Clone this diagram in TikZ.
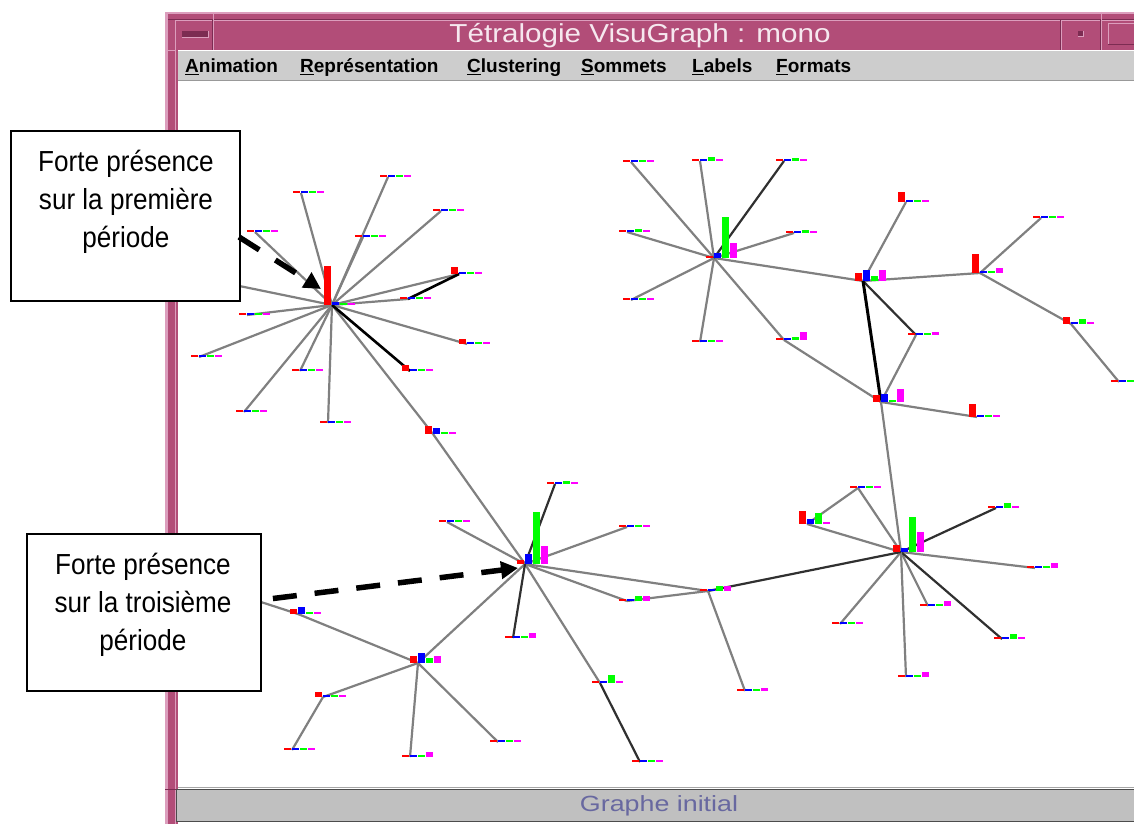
\documentclass[tikz,border=0pt]{standalone}
\usepackage{fontspec}
\setmainfont{Liberation Sans}
\usetikzlibrary{arrows.meta}
\definecolor{framec}{HTML}{B24D78}
\definecolor{framelt}{HTML}{DC9EBD}
\definecolor{framedk}{HTML}{7C2C52}
\definecolor{menugray}{HTML}{CDCDCD}
\definecolor{statgray}{HTML}{C0C0C0}
\definecolor{stattext}{HTML}{6868A0}
\definecolor{titletxt}{HTML}{F6E8EF}
\definecolor{edgegray}{HTML}{808080}
\definecolor{edgedark}{HTML}{303030}
\definecolor{barR}{HTML}{FF0000}
\definecolor{barB}{HTML}{0000FF}
\definecolor{barG}{HTML}{00FF00}
\definecolor{barM}{HTML}{FF00FF}
\newcommand\vbars[5]{%
  \begin{scope}[shift={(#1)}]
    \fill[barR] (-8,0) rectangle (-1,-#2);
    \fill[barB] (0,0) rectangle (7,-#3);
    \fill[barG] (8,0) rectangle (15,-#4);
    \fill[barM] (16,0) rectangle (23,-#5);
  \end{scope}}
\newcommand\minbars[1]{\vbars{#1}{2.5}{2.5}{2.5}{2.5}}
\tikzset{
  edge/.style={draw=edgegray, line width=2.2pt},
  darkedge/.style={draw=edgedark, line width=2.2pt},
  blackedge/.style={draw=black, line width=2.6pt},
  callout/.style={draw=black, line width=1.4pt, fill=white, inner sep=0pt},
  callouttext/.style={font=\fontsize{29}{38}\selectfont, align=center, xscale=0.9, inner sep=0pt},
  callarrow/.style={line width=5.5pt, -{Triangle[length=17pt,width=17pt]}},
  menuitem/.style={anchor=base west, inner sep=0pt, font=\fontsize{19}{22}\bfseries\selectfont, xscale=1.0},
}
\begin{document}
\begin{tikzpicture}[x=1pt,y=-1pt]
\useasboundingbox (0,0) rectangle (1134,824);
\fill[white] (0,0) rectangle (1134,824);

% ---------- window frame ----------
\fill[framec] (165,12) rectangle (1134,50);
\fill[framec] (165,12) rectangle (178,824);
\fill[framelt] (165,12) rectangle (168,824);
\fill[framelt] (165,12) rectangle (1134,14);
\draw[framelt, line width=1pt] (175.5,824) -- (175.5,20.5) -- (1134,20.5);
\draw[framedk, line width=0.8pt] (168,19.5) -- (1134,19.5);
\draw[framelt, line width=1pt] (213.5,12) -- (213.5,50);
\draw[framedk, line width=0.8pt] (212.5,20) -- (212.5,50);
\draw[framelt, line width=1pt] (1061.5,20) -- (1061.5,50);
\draw[framedk, line width=0.8pt] (1060.5,20) -- (1060.5,50);
\draw[framelt, line width=1pt] (1101.5,12) -- (1101.5,50);
\draw[framedk, line width=0.8pt] (1100.5,20) -- (1100.5,50);
\draw[framelt, line width=1pt] (165,50.5) -- (176,50.5);
\draw[framedk, line width=1pt] (165,789.5) -- (176,789.5);
% window buttons
\fill[framedk] (182,31) rectangle (208,37);
\draw[framelt, line width=0.8pt] (182,37) -- (208,37) -- (208,31);
\fill[framedk] (1078,31) rectangle (1083,36);
\draw[framelt, line width=0.6pt] (1078,36) -- (1083,36) -- (1083,31);
\draw[framelt, line width=1pt] (1108,45) -- (1108,24) -- (1134,24);
\draw[framedk, line width=1pt] (1108,45) -- (1134,45);

% title
\node[text=titletxt, font=\fontsize{26}{30}\selectfont, xscale=1.14, inner sep=0pt] (title) at (640,35.5) {Tétralogie VisuGraph : mono};

% menu bar
\fill[menugray] (178,51) rectangle (1134,80);
\draw[gray!80, line width=1pt] (178,80.5) -- (1134,80.5);
\node[menuitem] (m1) at (185,73) {\underline{A}nimation};
\node[menuitem] (m2) at (300,73) {\underline{R}eprésentation};
\node[menuitem] (m3) at (467,73) {\underline{C}lustering};
\node[menuitem] (m4) at (581,73) {\underline{S}ommets};
\node[menuitem] (m5) at (692,73) {\underline{L}abels};
\node[menuitem] (m6) at (776,73) {\underline{F}ormats};

% status bar
\fill[statgray] (176,789) rectangle (1134,822);
\draw[gray!60!black, line width=1.2pt] (176.5,822) -- (176.5,789.5) -- (1134,789.5);
\draw[gray!60!black, line width=1.2pt] (176.5,821.5) -- (1134,821.5);
\draw[gray!70, line width=0.8pt] (178,787) -- (1134,787);
\node[text=stattext, font=\fontsize{22}{26}\selectfont, xscale=1.22, inner sep=0pt] (status) at (659,805.5) {Graphe initial};

% ---------- graph vertices ----------
\coordinate (A) at (332,305);
\coordinate (a1) at (301,193);
\coordinate (a2) at (388,177);
\coordinate (a3) at (441,211);
\coordinate (a4) at (363,237);
\coordinate (a5) at (255,232);
\coordinate (a6) at (215,281);
\coordinate (a7) at (247,315);
\coordinate (a8) at (199,357);
\coordinate (a9) at (300,371);
\coordinate (a10) at (244,412);
\coordinate (a11) at (328,423);
\coordinate (a12) at (459,274);
\coordinate (a13) at (408,299);
\coordinate (a14) at (467,344);
\coordinate (a15) at (410,371);
\coordinate (a16) at (433,434);

\coordinate (B1) at (714,258);
\coordinate (b1) at (631,162);
\coordinate (b2) at (700,161);
\coordinate (b3) at (784,161);
\coordinate (b4) at (627,232);
\coordinate (b5) at (794,233);
\coordinate (b6) at (631,300);
\coordinate (b7) at (700,342);
\coordinate (b8) at (784,340);
\coordinate (B2) at (863,281);
\coordinate (b9) at (906,202);
\coordinate (B4) at (980,273);
\coordinate (b10) at (916,335);
\coordinate (B3) at (881,402);
\coordinate (b11) at (977,417);
\coordinate (b12) at (1041,218);
\coordinate (b13) at (1071,324);
\coordinate (b14) at (1119,382);

\coordinate (C) at (525,564);
\coordinate (c1) at (555,484);
\coordinate (c2) at (447,522);
\coordinate (c3) at (627,527);
\coordinate (c4) at (627,601);
\coordinate (N) at (708,591);
\coordinate (c5) at (513,638);
\coordinate (c6) at (600,683);
\coordinate (c7) at (640,762);
\coordinate (E) at (418,663);
\coordinate (e1) at (298,614);
\coordinate (e0) at (230,592);
\coordinate (e2) at (323,697);
\coordinate (e3) at (292,750);
\coordinate (e4) at (410,757);
\coordinate (e5) at (498,742);

\coordinate (D) at (901,552);
\coordinate (d1) at (858,488);
\coordinate (F) at (807,524);
\coordinate (d2) at (996,508);
\coordinate (d3) at (1035,568);
\coordinate (d4) at (928,606);
\coordinate (d5) at (1002,639);
\coordinate (d6) at (840,624);
\coordinate (d7) at (906,677);
\coordinate (n1) at (745,691);

% ---------- edges ----------
\foreach \t in {a1,a2,a3,a4,a5,a6,a7,a8,a9,a10,a11,a12,a13,a14,a16}
  \draw[edge] (A) -- (\t);
\draw[blackedge] (A) -- (a15);
\draw[blackedge] (a13) -- (a12);
\draw[edge] (a16) -- (C);

\foreach \t in {b1,b2,b4,b5,b6,b7,b8,B2}
  \draw[edge] (B1) -- (\t);
\draw[darkedge] (B1) -- (b3);
\draw[edge] (b8) -- (B3);
\draw[edge] (B2) -- (b9);
\draw[edge] (B2) -- (B4);
\draw[darkedge] (B2) -- (b10);
\draw[blackedge, line width=3pt] (B2) -- (B3);
\draw[edge] (B3) -- (b10);
\draw[edge] (B3) -- (b11);
\draw[edge] (B3) -- (D);
\draw[edge] (B4) -- (b12);
\draw[edge] (B4) -- (b13);
\draw[edge] (b13) -- (b14);

\draw[darkedge] (C) -- (c1);
\foreach \t in {c2,c3,c4,N,c6,E}
  \draw[edge] (C) -- (\t);
\draw[edge] (c4) -- (N);
\draw[darkedge] (C) -- (c5);
\draw[darkedge] (c6) -- (c7);
\draw[edge] (E) -- (e1);
\draw[edge] (e1) -- (e0);
\draw[edge] (E) -- (e2);
\draw[edge] (e2) -- (e3);
\draw[edge] (E) -- (e4);
\draw[edge] (E) -- (e5);

\draw[edge] (D) -- (d1);
\draw[edge] (d1) -- (F);
\draw[edge] (F) -- (D);
\draw[darkedge] (D) -- (d2);
\draw[edge] (D) -- (d3);
\draw[edge] (D) -- (d4);
\draw[darkedge] (D) -- (d5);
\draw[edge] (D) -- (d6);
\draw[edge] (D) -- (d7);
\draw[darkedge] (N) -- (D);
\draw[edge] (N) -- (n1);

% ---------- bar glyphs ----------
\vbars{A}{39}{3}{2.5}{2.5}
\foreach \t in {a1,a2,a3,a4,a5,a7,a8,a9,a10,a11,a13} {\minbars{\t}}
\vbars{a12}{7}{2.5}{2.5}{2.5}
\vbars{a14}{5}{2.5}{2.5}{2.5}
\vbars{a15}{6}{2.5}{2.5}{2.5}
\vbars{a16}{8}{6}{2.5}{2.5}

\vbars{B1}{2.5}{5}{41}{15}
\foreach \t in {b1,b6,b7,b12,b14} {\minbars{\t}}
\vbars{b2}{2.5}{2.5}{4}{2.5}
\vbars{b3}{2.5}{2.5}{3.5}{2.5}
\vbars{b4}{2.5}{2.5}{3.5}{2.5}
\vbars{b5}{2.5}{2.5}{3.5}{2.5}
\vbars{b8}{2.5}{2.5}{3}{8}
\vbars{B2}{8}{11}{5}{11}
\vbars{b9}{10}{2.5}{2.5}{2.5}
\vbars{B4}{19}{2.5}{2.5}{5}
\vbars{b10}{2.5}{2.5}{2.5}{3.5}
\vbars{B3}{7}{8}{2.5}{13}
\vbars{b11}{13}{2.5}{2.5}{2.5}
\vbars{b13}{7}{2.5}{5}{2.5}

\vbars{C}{4}{10}{52}{18}
\vbars{c1}{2.5}{2.5}{3.5}{2.5}
\foreach \t in {c2,c3,c7,e3,e5,d1,d6} {\minbars{\t}}
\vbars{c4}{2.5}{2.5}{5}{5}
\vbars{N}{2.5}{2.5}{5}{5}
\vbars{c5}{2.5}{2.5}{2.5}{5}
\vbars{c6}{2.5}{2.5}{8}{2.5}
\vbars{E}{7}{10}{5}{7}
\vbars{e1}{5}{7}{2.5}{2.5}
\vbars{e2}{5}{2.5}{2.5}{2.5}
\vbars{e4}{2.5}{2.5}{2.5}{5}

\vbars{D}{7}{4}{35}{20}
\vbars{F}{13}{5}{11}{2.5}
\vbars{d2}{2.5}{2.5}{5}{2.5}
\vbars{d3}{2.5}{2.5}{2.5}{5}
\vbars{d4}{2.5}{2.5}{2.5}{5}
\vbars{d5}{2.5}{2.5}{5}{2.5}
\vbars{d7}{2.5}{2.5}{2.5}{5}
\vbars{n1}{2.5}{2.5}{2.5}{3.5}

% ---------- callouts ----------
\node[callout, minimum width=229pt, minimum height=170pt] (box1) at (125.5,216) {};
\node[callouttext] (txt1) at (126,201.5) {Forte présence\\sur la première\\période};
\node[callout, minimum width=234pt, minimum height=157pt] (box2) at (144,612.5) {};
\node[callouttext] (txt2) at (143,604.5) {Forte présence\\sur la troisième\\période};

\coordinate (s1) at (239,237);
\coordinate (t1) at (321,289);
\coordinate (s2) at (261,600);
\coordinate (t2) at (518,568);
\draw[callarrow, dash pattern=on 24pt off 19pt] (s1) -- (t1);
\draw[callarrow, dash pattern=on 24pt off 18pt, dash phase=30pt] (s2) -- (t2);
\end{tikzpicture}
\end{document}
